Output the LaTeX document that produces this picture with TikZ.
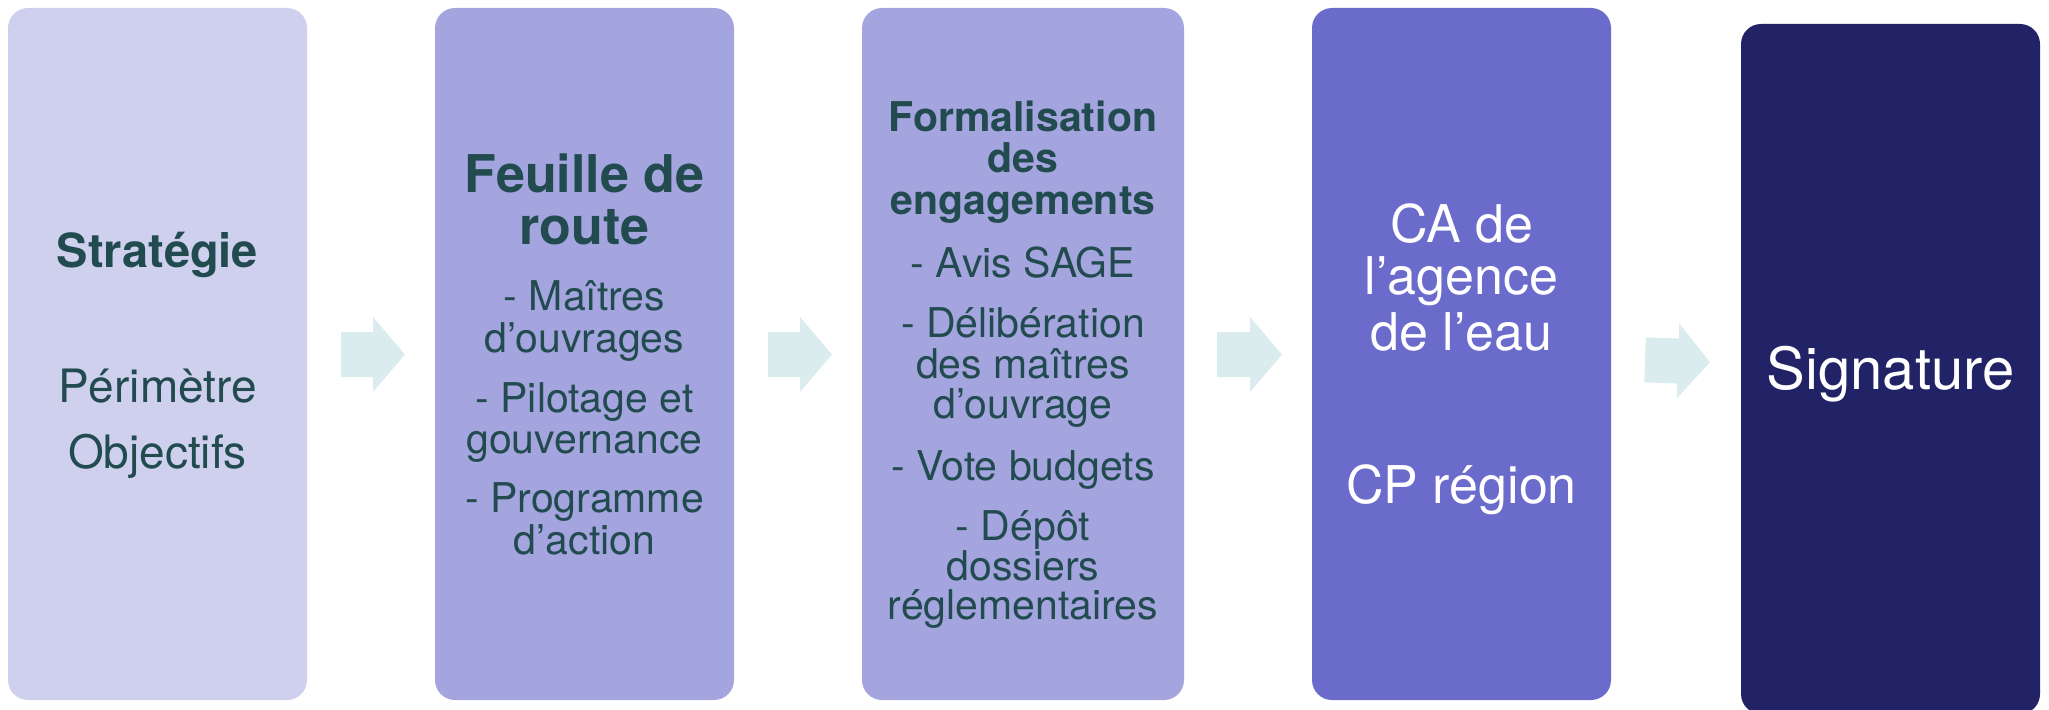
\documentclass[tikz,border=0pt]{standalone}
\usepackage{fontspec}
\setmainfont{TeX Gyre Heros}
\definecolor{cA}{HTML}{CFCFEE}
\definecolor{cB}{HTML}{A4A4DE}
\definecolor{cC}{HTML}{6B6BCC}
\definecolor{cD}{HTML}{222266}
\definecolor{tcol}{HTML}{214B4F}
\definecolor{acol}{HTML}{DAECEE}
\tikzset{
  box/.style={rectangle, rounded corners=20pt, draw=none, inner sep=0pt, minimum width=299pt},
  txt/.style={anchor=base, inner sep=0pt, text=tcol, font=\fontsize{41}{41}\selectfont},
  wtxt/.style={txt, text=white, font=\fontsize{52}{52}\selectfont},
  blockarrow/.style={fill=acol, draw=none}
}
\begin{document}
\begin{tikzpicture}[x=1pt,y=-1pt]
\useasboundingbox (0,0) rectangle (2049,709);
% boxes
\node[box, fill=cA, minimum height=692pt] (b1) at (157.5,354) {};
\node[box, fill=cB, minimum height=692pt] (b2) at (584.5,354) {};
\node[box, fill=cB, minimum height=692pt, minimum width=322pt] (b3) at (1023,354) {};
\node[box, fill=cC, minimum height=692pt] (b4) at (1461.5,354) {};
\node[box, fill=cD, minimum height=690pt] (b5) at (1890.5,369) {};
% arrows
\fill[blockarrow] (341,332) -- (373,332) -- (373,317) -- (405,354.5) -- (373,392) -- (373,377) -- (341,377) -- cycle;
\fill[blockarrow] (768,332) -- (800,332) -- (800,317) -- (832,354.5) -- (800,392) -- (800,377) -- (768,377) -- cycle;
\fill[blockarrow] (1217,332) -- (1250,332) -- (1250,317) -- (1282,354.5) -- (1250,392) -- (1250,377) -- (1217,377) -- cycle;
\begin{scope}[rotate around={-2:(1677,361)}]
\fill[blockarrow] (1645,338.5) -- (1678,338.5) -- (1678,323.5) -- (1710,361) -- (1678,398.5) -- (1678,383.5) -- (1645,383.5) -- cycle;
\end{scope}
% box 1 text
\node[txt, font=\fontsize{47}{47}\selectfont\bfseries] (t1a) at (157.5,267) {Stratégie};
\node[txt, font=\fontsize{46}{46}\selectfont] (t1b) at (157.5,402) {Périmètre};
\node[txt, font=\fontsize{46}{46}\selectfont] (t1c) at (157.5,468) {Objectifs};
% box 2 text
\node[txt, font=\fontsize{52}{52}\selectfont\bfseries] (t2a) at (584.5,192) {Feuille de};
\node[txt, font=\fontsize{52}{52}\selectfont\bfseries] (t2b) at (584.5,244) {route};
\node[txt] (t2c) at (584.5,310) {- Maîtres};
\node[txt] (t2d) at (584.5,352) {d’ouvrages};
\node[txt] (t2e) at (584.5,412) {- Pilotage et};
\node[txt] (t2f) at (584.5,453) {gouvernance};
\node[txt] (t2g) at (584.5,512) {- Programme};
\node[txt] (t2h) at (584.5,554) {d’action};
% box 3 text
\node[txt, font=\fontsize{41}{41}\selectfont\bfseries] (t3a) at (1023,131) {Formalisation};
\node[txt, font=\fontsize{41}{41}\selectfont\bfseries] (t3b) at (1023,172) {des};
\node[txt, font=\fontsize{41}{41}\selectfont\bfseries] (t3c) at (1023,214) {engagements};
\node[txt] (t3d) at (1023,277) {- Avis SAGE};
\node[txt] (t3e) at (1023,337) {- Délibération};
\node[txt] (t3f) at (1023,378) {des maîtres};
\node[txt] (t3g) at (1023,418) {d’ouvrage};
\node[txt] (t3h) at (1023,480) {- Vote budgets};
\node[txt] (t3i) at (1023,540) {- Dépôt};
\node[txt] (t3j) at (1023,580) {dossiers};
\node[txt] (t3k) at (1023,619) {réglementaires};
% box 4 text
\node[wtxt] (t4a) at (1461.5,242) {CA de};
\node[wtxt] (t4b) at (1461.5,294) {l’agence};
\node[wtxt] (t4c) at (1461.5,350) {de l’eau};
\node[wtxt] (t4d) at (1461.5,503) {CP région};
% box 5 text
\node[wtxt, font=\fontsize{58}{58}\selectfont] (t5a) at (1890.5,389) {Signature};
\end{tikzpicture}
\end{document}
